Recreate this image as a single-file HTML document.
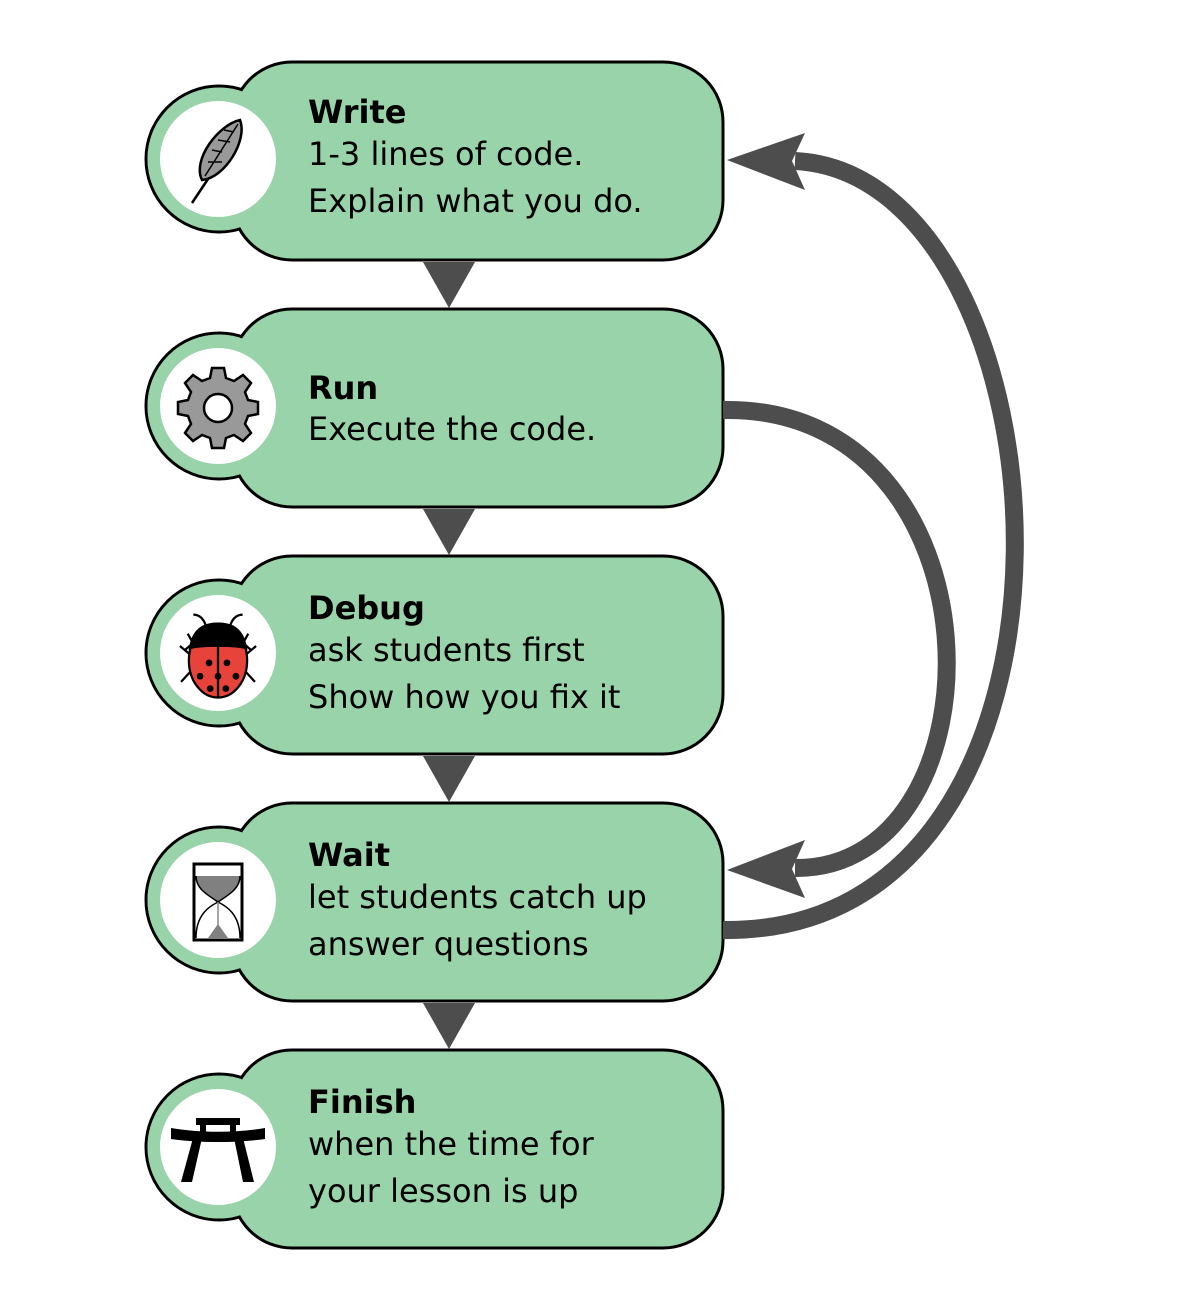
<!DOCTYPE html>
<html><head><meta charset="utf-8"><style>
html,body{margin:0;padding:0;background:#fff;}
svg{display:block;}
text{font-family:"DejaVu Sans","Liberation Sans",sans-serif;font-size:32px;fill:#000;}
.b{font-weight:bold;}
</style></head><body>
<svg width="1199" height="1296" viewBox="0 0 1199 1296" xmlns="http://www.w3.org/2000/svg">
<defs>
<g id="card">
  <circle cx="219" cy="97" r="73" fill="#99d3a9" stroke="#000" stroke-width="3"/>
  <rect x="232" y="0" width="491" height="198" rx="60" fill="#99d3a9" stroke="#000" stroke-width="3"/>
  <circle cx="219" cy="97" r="71.5" fill="#99d3a9"/>
  <circle cx="218" cy="97" r="58" fill="#fff"/>
</g>
<polygon id="dn" points="423,0 475,0 449,46" fill="#4d4d4d"/>
</defs>

<use href="#card" y="62"/>
<use href="#card" y="309"/>
<use href="#card" y="556"/>
<use href="#card" y="803"/>
<use href="#card" y="1050"/>

<use href="#dn" y="262"/>
<use href="#dn" y="509"/>
<use href="#dn" y="756"/>
<use href="#dn" y="1003"/>

<path d="M723,410 C1008,405 1008,870 795,868" fill="none" stroke="#4d4d4d" stroke-width="18"/>
<polygon points="727,870 805,840 792,869 805,898" fill="#4d4d4d"/>
<path d="M723,930 C1125,935 1075,175 795,161" fill="none" stroke="#4d4d4d" stroke-width="18"/>
<polygon points="727,160 805,133 792,161 805,190" fill="#4d4d4d"/>

<g stroke="#000" stroke-width="2.5">
  <line x1="192" y1="203" x2="210" y2="176"/>
  <path d="M202,180 C192,160 218,125 240,120 C248,140 225,178 202,180 Z" fill="#999"/>
  <path d="M205,176 L238,124 M212,150 l10,2 M208,162 l14,0 M218,140 l12,2 M224,130 l10,2" fill="none" stroke-width="1.5"/>
</g>

<g transform="translate(218,408)">
  <path fill="#999" stroke="#000" stroke-width="2.5" d="M-6,-40 L6,-40 L8,-30 L16,-27 L25,-33 L33,-25 L27,-16 L30,-8 L40,-6 L40,6 L30,8 L27,16 L33,25 L25,33 L16,27 L8,30 L6,40 L-6,40 L-8,30 L-16,27 L-25,33 L-33,25 L-27,16 L-30,8 L-40,6 L-40,-6 L-30,-8 L-27,-16 L-33,-25 L-25,-33 L-16,-27 L-8,-30 Z"/>
  <circle r="14" fill="#fff" stroke="#000" stroke-width="2.5"/>
</g>

<g transform="translate(218,655) scale(1.12)" stroke="#000" stroke-width="2" fill="none">
  <path d="M-10,-23 C-12,-32 -16,-36 -22,-36 M10,-23 C12,-32 16,-36 22,-36"/>
  <path d="M-22,-11 L-30,-4 M-22,2 L-34,-8 M-22,12 L-33,24 M22,-11 L30,-4 M22,2 L34,-8 M22,12 L33,24 M-27,-19 L-22,-10 M27,-19 L22,-10"/>
  <ellipse cx="0" cy="5" rx="26" ry="33" fill="#e8433a"/>
  <path d="M-25,-6 C-22,-24 -12,-28 0,-28 C12,-28 22,-24 25,-6 C18,-9 -18,-9 -25,-6 Z" fill="#000"/>
  <line x1="0" y1="-8" x2="0" y2="38"/>
  <g fill="#000" stroke="none">
    <circle cx="-8" cy="7" r="3"/><circle cx="8" cy="7" r="3"/>
    <circle cx="-16" cy="19" r="3"/><circle cx="0" cy="19" r="3"/><circle cx="16" cy="19" r="3"/>
    <circle cx="-7" cy="30" r="3"/><circle cx="7" cy="30" r="3"/>
  </g>
</g>

<g>
  <rect x="194" y="864" width="48" height="76" fill="#fff" stroke="#000" stroke-width="3"/>
  <path d="M196,876 L240,876 C240,890 226,894 218,902 C210,894 196,890 196,876 Z" fill="#808080"/>
  <path d="M196,938 C196,914 210,906 218,902 C226,906 240,914 240,938" fill="none" stroke="#000" stroke-width="1.5"/>
  <path d="M196,876 C196,890 210,896 218,902 C226,896 240,890 240,876" fill="none" stroke="#000" stroke-width="1.5"/>
  <path d="M208,938 L218,924 L228,938 Z" fill="#808080"/>
  <line x1="218" y1="902" x2="218" y2="925" stroke="#888" stroke-width="1.5"/>
</g>

<g fill="#000">
  <path d="M171,1128 C200,1133 236,1133 265,1128 L265,1139 C236,1143 200,1143 171,1139 Z"/>
  <rect x="196" y="1118" width="44" height="7"/>
  <polygon points="193,1138 202,1138 192,1182 181,1182"/>
  <polygon points="234,1138 243,1138 254,1182 243,1182"/>
  <rect x="200" y="1118" width="6" height="20"/>
  <rect x="230" y="1118" width="6" height="20"/>
</g>

<text x="308" y="123" class="b">Write</text>
<text x="308" y="165">1-3 lines of code.</text>
<text x="308" y="212">Explain what you do.</text>

<text x="308" y="399" class="b">Run</text>
<text x="308" y="440">Execute the code.</text>

<text x="308" y="619" class="b">Debug</text>
<text x="308" y="661">ask students first</text>
<text x="308" y="708">Show how you fix it</text>

<text x="308" y="866" class="b">Wait</text>
<text x="308" y="908">let students catch up</text>
<text x="308" y="955">answer questions</text>

<text x="308" y="1113" class="b">Finish</text>
<text x="308" y="1155">when the time for</text>
<text x="308" y="1202">your lesson is up</text>
</svg>
</body></html>
